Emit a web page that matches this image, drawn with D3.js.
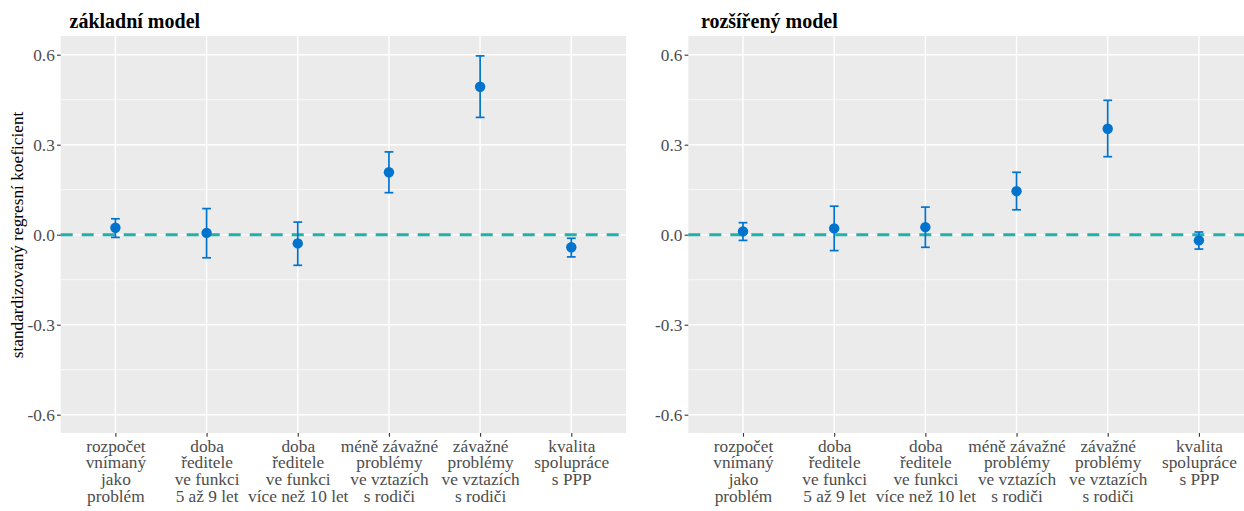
<!DOCTYPE html>
<html>
<head>
<meta charset="utf-8">
<script src="https://cdn.jsdelivr.net/npm/d3@7"></script>
<style>
  html, body { margin: 0; padding: 0; background: #fff; }
  svg { display: block; }
  svg text { font-family: "Liberation Serif", "Times New Roman", serif; }
</style>
</head>
<body>
<svg id="chart" width="1244" height="511"></svg>
<script>
// ---- data ----
const categories = [
  "rozpočet\nvnímaný\njako\nproblém",
  "doba\nředitele\nve funkci\n5 až 9 let",
  "doba\nředitele\nve funkci\nvíce než 10 let",
  "méně závažné\nproblémy\nve vztazích\ns rodiči",
  "závažné\nproblémy\nve vztazích\ns rodiči",
  "kvalita\nspolupráce\ns PPP"
];
const panelTitles = ["základní model", "rozšířený model"];
const yTicks = [-0.6, -0.3, 0.0, 0.3, 0.6];
const yTitle = "standardizovaný regresní koeficient";

// základní model
const basicEstimate = [0.023, 0.006, -0.029, 0.208, 0.493, -0.042];
const basicLower    = [-0.009, -0.077, -0.102, 0.140, 0.391, -0.074];
const basicUpper    = [0.053, 0.087, 0.042, 0.276, 0.596, -0.012];

// rozšířený model
const extEstimate = [0.011, 0.021, 0.025, 0.145, 0.353, -0.019];
const extLower    = [-0.019, -0.053, -0.042, 0.083, 0.260, -0.048];
const extUpper    = [0.040, 0.095, 0.092, 0.208, 0.448, 0.009];

// ---- layout ----
const svg = d3.select("#chart");
const FONT = "Liberation Serif, Times New Roman, serif";
const FS = 17.3;
const panelTop = 36, panelBottom = 433, panelW = 565.3;
const panelLefts = [60.7, 688.3];
const titleOffsets = [8.8, 12.6];
const yDomain = [-0.661, 0.6623];
const blue = "#0073CF";

const panels = [
  { title: panelTitles[0], est: basicEstimate, lo: basicLower, hi: basicUpper },
  { title: panelTitles[1], est: extEstimate, lo: extLower, hi: extUpper }
];

const fmt = d => d3.format(".1f")(d).replace("\u2212", "-");

panels.forEach((p, pi) => {
  const x0 = panelLefts[pi];
  const x = d3.scalePoint().domain(categories).range([x0, x0 + panelW]).padding(0.6);
  const y = d3.scaleLinear().domain(yDomain).range([panelBottom, panelTop]);
  const g = svg.append("g");

  // background
  g.append("rect").attr("x", x0).attr("y", panelTop)
    .attr("width", panelW).attr("height", panelBottom - panelTop)
    .attr("fill", "#EBEBEB");

  // minor grid
  const minor = [];
  for (let i = 0; i < yTicks.length - 1; i++) minor.push((yTicks[i] + yTicks[i + 1]) / 2);
  g.selectAll(".minor").data(minor).join("line")
    .attr("x1", x0).attr("x2", x0 + panelW)
    .attr("y1", d => y(d)).attr("y2", d => y(d))
    .attr("stroke", "#fff").attr("stroke-width", 0.7);
  // major grid
  g.selectAll(".majory").data(yTicks).join("line")
    .attr("x1", x0).attr("x2", x0 + panelW)
    .attr("y1", d => y(d)).attr("y2", d => y(d))
    .attr("stroke", "#fff").attr("stroke-width", 1.4);
  g.selectAll(".majorx").data(categories).join("line")
    .attr("x1", d => x(d)).attr("x2", d => x(d))
    .attr("y1", panelTop).attr("y2", panelBottom)
    .attr("stroke", "#fff").attr("stroke-width", 1.4);

  // zero reference line
  g.append("line").attr("x1", x0).attr("x2", x0 + panelW)
    .attr("y1", y(0)).attr("y2", y(0))
    .attr("stroke", "#20B2AA").attr("stroke-width", 3)
    .attr("stroke-dasharray", "12,9");

  // error bars
  const idx = d3.range(categories.length);
  const eb = g.selectAll(".eb").data(idx).join("g").attr("stroke", blue).attr("stroke-width", 1.7).attr("fill", "none");
  eb.append("line").attr("x1", i => x(categories[i])).attr("x2", i => x(categories[i]))
    .attr("y1", i => y(p.lo[i])).attr("y2", i => y(p.hi[i]));
  eb.append("line").attr("x1", i => x(categories[i]) - 4.4).attr("x2", i => x(categories[i]) + 4.4)
    .attr("y1", i => y(p.lo[i])).attr("y2", i => y(p.lo[i]));
  eb.append("line").attr("x1", i => x(categories[i]) - 4.4).attr("x2", i => x(categories[i]) + 4.4)
    .attr("y1", i => y(p.hi[i])).attr("y2", i => y(p.hi[i]));

  // points
  g.selectAll(".pt").data(idx).join("circle")
    .attr("cx", i => x(categories[i])).attr("cy", i => y(p.est[i]))
    .attr("r", 5.2).attr("fill", blue);

  // y axis
  const ya = g.append("g").attr("transform", `translate(${x0},0)`)
    .call(d3.axisLeft(y).tickValues(yTicks).tickFormat(fmt).tickSize(3.7).tickPadding(2.2));
  ya.attr("font-family", FONT).attr("font-size", FS);
  ya.select(".domain").remove();
  ya.selectAll(".tick line").attr("stroke", "#333").attr("stroke-width", 1.1);
  ya.selectAll(".tick text")
    .style("font-family", FONT).style("font-size", FS + "px").style("fill", "#4D4D4D")
    .attr("dy", "0.33em");

  // x axis
  const xa = g.append("g").attr("transform", `translate(0,${panelBottom})`)
    .call(d3.axisBottom(x).tickSize(3.7).tickPadding(0));
  xa.attr("font-family", FONT).attr("font-size", FS);
  xa.select(".domain").remove();
  xa.selectAll(".tick line").attr("stroke", "#333").attr("stroke-width", 1.1);
  xa.selectAll(".tick text").each(function(d) {
    const t = d3.select(this);
    t.text(null)
      .style("font-family", FONT).style("font-size", FS + "px").style("fill", "#4D4D4D")
      .attr("y", 0).attr("dy", null).attr("text-anchor", "middle");
    d.split("\n").forEach((line, li) => {
      t.append("tspan").attr("x", 0).attr("y", 18.5 + li * 16.7).text(line);
    });
  });

  // title
  svg.append("text").attr("x", x0 + titleOffsets[pi]).attr("y", 28)
    .style("font-family", FONT).style("font-weight", "bold").style("font-size", "20px")
    .attr("fill", "#000").text(p.title);
});

// y axis title
svg.append("text")
  .attr("transform", `translate(23,${(panelTop + panelBottom) / 2 + 0.5}) rotate(-90)`)
  .attr("text-anchor", "middle")
  .style("font-family", FONT).style("font-size", FS + "px").attr("fill", "#000")
  .text(yTitle);
</script>
</body>
</html>
